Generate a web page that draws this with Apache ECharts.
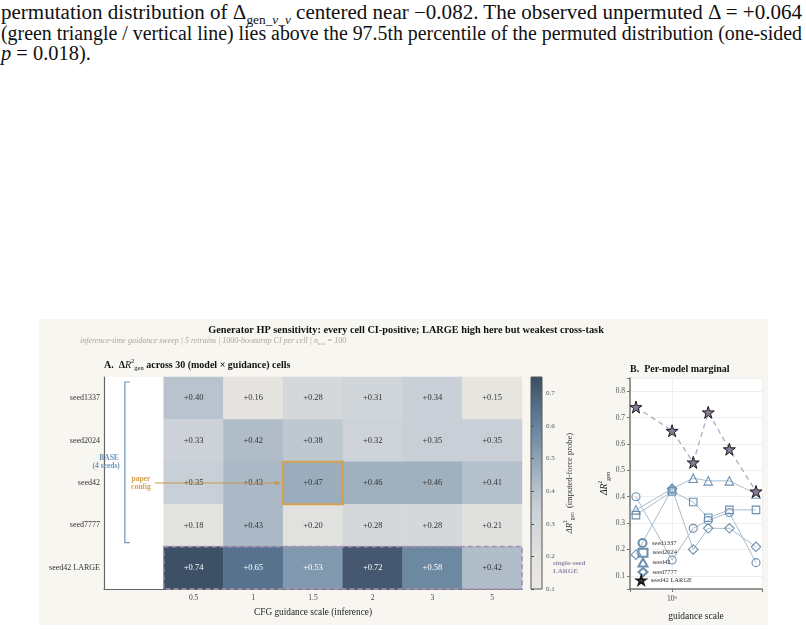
<!DOCTYPE html>
<html>
<head>
<meta charset="utf-8">
<script src="https://cdn.jsdelivr.net/npm/echarts@6/dist/echarts.min.js"></script>
<style>
	body {margin: 0; background: #fff; width: 806px; height: 630px; overflow: hidden; position: relative; font-family: 'Liberation Serif', serif;}
	.ln {position: absolute; left: 1px; font-size: 20.5px; line-height: 20px; color: #111; white-space: nowrap; transform-origin: 0 0;}
	.ln sub {font-size: 13px; line-height: 0;}
	#fig {position: absolute; left: 39px; top: 319px; width: 729px; height: 306px; background: #f8f6f0;}
	#chart {position: absolute; left: 0; top: 0; width: 806px; height: 630px;}
</style>
</head>
<body>
<span class="ln" id="l1" style="top:2px">permutation distribution of &Delta;<sub>gen_<i>v</i>_<i>v</i></sub> centered near &minus;0.082. The observed unpermuted &Delta; = +0.064</span>
<span class="ln" id="l2" style="top:23px">(green triangle / vertical line) lies above the 97.5th percentile of the permuted distribution (one-sided</span>
<span class="ln" id="l3" style="top:43px"><i>p</i> = 0.018).</span>
<div id="fig"></div>
<div id="chart"></div>
<script>
// 数据
const guidance = ['0.5', '1', '1.5', '2', '3', '5'];
const guidanceNum = [0.5, 1, 1.5, 2, 3, 5];
const models = ['seed1337', 'seed2024', 'seed42', 'seed7777', 'seed42 LARGE'];
const seed1337 = [0.40, 0.16, 0.28, 0.31, 0.34, 0.15];
const seed2024 = [0.33, 0.42, 0.38, 0.32, 0.35, 0.35];
const seed42 = [0.35, 0.43, 0.47, 0.46, 0.46, 0.41];
const seed7777 = [0.18, 0.43, 0.20, 0.28, 0.28, 0.21];
const seed42Large = [0.74, 0.65, 0.53, 0.72, 0.58, 0.42];
const rows = [seed1337, seed2024, seed42, seed7777, seed42Large];

// 正文段落：每行缩放到页面宽度
const w1 = document.getElementById('l1').getBoundingClientRect().width;
const w2 = document.getElementById('l2').getBoundingClientRect().width;
const s1 = 801 / w1, s2 = 801 / w2;
document.getElementById('l1').style.transform = 'scaleX(' + s1 + ')';
document.getElementById('l2').style.transform = 'scaleX(' + s2 + ')';
document.getElementById('l3').style.transform = 'scaleX(' + ((s1 + s2) / 2) + ')';

const serif = 'Liberation Serif';
const cmap = ['#ebe9e4', '#e7e5e0', '#e1e2e0', '#dadcdd', '#d1d6da', '#c8cfd6', '#b8c3cd',
	'#a3b3c1', '#8ea3b5', '#7892a9', '#66839d', '#56728d', '#4a5f77', '#3a4c62'];

const heatData = [];
rows.forEach((row, r) => {
	row.forEach((v, c) => {
		heatData.push({
			value: [c + 1, r, v],
			label: {color: v >= 0.5 ? '#ffffff' : '#333333'}
		});
	});
});
const toPts = (vals) => guidanceNum.map((g, i) => [g, vals[i]]);

const star = 'path://M50,0 L61,35 L98,35 L68,57 L79,91 L50,70 L21,91 L32,57 L2,35 L39,35 Z';
const baseItem = {color: 'none', borderColor: '#6b8fb0', borderWidth: 1.1};
const baseLine = {color: '#a9bdcd', width: 1};
const rich = {
	b: {fontFamily: serif, fontWeight: 'bold', fontSize: 10, lineHeight: 14, fill: '#111'},
	i: {fontFamily: serif, fontStyle: 'italic', fontSize: 10, lineHeight: 14, fill: '#111'},
	sup: {fontFamily: serif, fontSize: 6.5, verticalAlign: 'top', fill: '#111'},
	sub: {fontFamily: serif, fontSize: 6.5, verticalAlign: 'bottom', fill: '#111'}
};

// 图例：每项一个组件，逐行定位
const legendItems = [
	{name: 'seed1337', icon: 'circle'},
	{name: 'seed2024', icon: 'rect'},
	{name: 'seed42', icon: 'triangle'},
	{name: 'seed7777', icon: 'diamond'},
	{name: 'seed42 LARGE', icon: star}
];
const legends = legendItems.map((it, i) => ({
	left: 636, top: 536.5 + i * 9.7, padding: 0, orient: 'vertical', itemWidth: 9, itemHeight: 8, itemGap: 0,
	textStyle: {fontSize: 6.5, color: '#333', fontFamily: serif},
	data: [it]
}));

const chart = echarts.init(document.getElementById('chart'), null, {renderer: 'canvas'});
const option = {
	animation: false,
	textStyle: {fontFamily: serif},
	grid: [
		{left: 104, top: 377, width: 418, height: 212, show: true, backgroundColor: '#ffffff', borderWidth: 0, outerBoundsMode: 'none'},
		{left: 531, top: 377, width: 11, height: 212, show: true, borderColor: '#555', borderWidth: 1, outerBoundsMode: 'none',
			backgroundColor: new echarts.graphic.LinearGradient(0, 1, 0, 0,
				cmap.map((c, i) => ({offset: i / (cmap.length - 1), color: c})))},
		{left: 630, top: 378, width: 132, height: 211, show: true, backgroundColor: '#ffffff', borderWidth: 0, outerBoundsMode: 'none'}
	],
	visualMap: {
		type: 'continuous', show: false, min: 0.1, max: 0.75, dimension: 2, seriesIndex: 0,
		inRange: {color: cmap}
	},
	legend: legends,
	xAxis: [
		{
			gridIndex: 0, type: 'category', data: [''].concat(guidance),
			axisLine: {lineStyle: {color: '#666', width: 1.2}},
			axisTick: {alignWithLabel: true, length: 3, interval: (i) => i > 0, lineStyle: {color: '#666'}},
			axisLabel: {interval: 0, fontSize: 7.5, color: '#444', margin: 5},
			splitLine: {show: false},
			name: 'CFG guidance scale (inference)', nameLocation: 'middle', nameGap: 19,
			nameTextStyle: {fontSize: 9.3, color: '#222', fontFamily: serif}
		},
		{gridIndex: 1, type: 'value', min: 0, max: 1, show: false},
		{
			gridIndex: 2, type: 'log', logBase: 10, min: 0.446, max: 5.61,
			axisLine: {lineStyle: {color: '#777', width: 1.5}},
			axisTick: {length: 3, lineStyle: {color: '#777'}},
			axisLabel: {
				fontSize: 7.5, color: '#444', margin: 6,
				formatter: (v) => Math.abs(v - 1) < 1e-6 ? '10{s|0}' : '',
				rich: {s: {fontSize: 5, verticalAlign: 'top', color: '#444'}}
			},
			splitLine: {show: true, lineStyle: {color: '#eeeeee'}},
			name: 'guidance scale', nameLocation: 'middle', nameGap: 22,
			nameTextStyle: {fontSize: 9.5, color: '#222', fontFamily: serif}
		}
	],
	yAxis: [
		{
			gridIndex: 0, type: 'category', data: models, inverse: true,
			axisLine: {lineStyle: {color: '#666', width: 1.2}},
			axisTick: {alignWithLabel: true, length: 3, lineStyle: {color: '#666'}},
			axisLabel: {interval: 0, fontSize: 8, color: '#333', margin: 4},
			splitLine: {show: false}
		},
		{
			gridIndex: 1, type: 'value', min: 0.1, max: 0.75, interval: 0.1, position: 'right',
			axisLine: {show: false},
			axisTick: {show: true, length: 3, inside: false, lineStyle: {color: '#555'}},
			axisLabel: {
				fontSize: 7, color: '#555', margin: 4,
				formatter: (v) => Math.abs(v * 10 - Math.round(v * 10)) < 1e-6 ? v.toFixed(1) : ''
			},
			splitLine: {show: false},
			name: '{d|ΔR}{sup|2}{sub|gen}{t|  (imputed-force probe)}', nameLocation: 'middle', nameRotate: 90, nameGap: 21,
			nameTextStyle: {
				rich: {
					d: {fontFamily: serif, fontStyle: 'italic', fontSize: 8.5, lineHeight: 13, color: '#333'},
					t: {fontFamily: serif, fontSize: 8.5, lineHeight: 13, color: '#333'},
					sup: {fontFamily: serif, fontSize: 5.5, verticalAlign: 'top', color: '#333'},
					sub: {fontFamily: serif, fontSize: 5.5, verticalAlign: 'bottom', color: '#333'}
				}
			}
		},
		{
			gridIndex: 2, type: 'value', min: 0.05, max: 0.85, splitNumber: 8,
			axisLine: {show: true, lineStyle: {color: '#777', width: 1.5}},
			axisTick: {show: true, length: 3, lineStyle: {color: '#777'}},
			axisLabel: {
				fontSize: 7.5, color: '#555', margin: 5,
				formatter: (v) => Math.abs(v * 10 - Math.round(v * 10)) < 1e-6 ? v.toFixed(1) : ''
			},
			splitLine: {show: true, lineStyle: {color: '#eeeeee'}},
			name: '{d|ΔR}{sup|2}{sub|gen}', nameLocation: 'middle', nameRotate: 90, nameGap: 16,
			nameTextStyle: {
				rich: {
					d: {fontFamily: serif, fontStyle: 'italic', fontSize: 9.5, lineHeight: 14, color: '#222'},
					sup: {fontFamily: serif, fontSize: 6, verticalAlign: 'top', color: '#222'},
					sub: {fontFamily: serif, fontSize: 6, verticalAlign: 'bottom', color: '#222'}
				}
			}
		}
	],
	series: [
		{
			type: 'heatmap', xAxisIndex: 0, yAxisIndex: 0, data: heatData,
			label: {show: true, fontSize: 8.5, fontFamily: serif, formatter: (p) => '+' + p.value[2].toFixed(2)},
			emphasis: {disabled: true}
		},
		{name: 'seed1337', type: 'line', xAxisIndex: 2, yAxisIndex: 2, data: toPts(seed1337),
			symbol: 'circle', symbolSize: 8, itemStyle: baseItem, lineStyle: baseLine},
		{name: 'seed2024', type: 'line', xAxisIndex: 2, yAxisIndex: 2, data: toPts(seed2024),
			symbol: 'rect', symbolSize: 7.5, itemStyle: baseItem, lineStyle: baseLine},
		{name: 'seed42', type: 'line', xAxisIndex: 2, yAxisIndex: 2, data: toPts(seed42),
			symbol: 'triangle', symbolSize: 8.5, itemStyle: baseItem, lineStyle: baseLine},
		{name: 'seed7777', type: 'line', xAxisIndex: 2, yAxisIndex: 2, data: toPts(seed7777),
			symbol: 'diamond', symbolSize: 9.5, itemStyle: baseItem, lineStyle: baseLine},
		{name: 'seed42 LARGE', type: 'line', xAxisIndex: 2, yAxisIndex: 2, data: toPts(seed42Large), z: 5,
			symbol: star, symbolSize: 12, itemStyle: {color: '#8a7b9b', borderColor: '#1a1a1a', borderWidth: 1},
			lineStyle: {color: '#b3a8c4', width: 1.3, type: [5, 4]}}
	]
};
chart.setOption(option);

// 注释：用坐标换算定位
const px = (c, r) => chart.convertToPixel({xAxisIndex: 0, yAxisIndex: 0}, [c, r]);
const p00 = px(0, 0), p11 = px(1, 1);
const cw = p11[0] - p00[0], rh = p11[1] - p00[1];
const box = px(3, 2);
const large0 = px(1, 4), large5 = px(6, 4);
const bx = p00[0] - 9;
const bTop = p00[1] - rh / 2 + 5, bBot = px(0, 3)[1] + rh / 2 - 4;
const midBase = px(0, 1)[1] + rh / 2;
const arrowY = box[1], arrowEnd = box[0] - cw / 2 - 2;
const cb = chart.convertToPixel({xAxisIndex: 1, yAxisIndex: 1}, [1, 0.1]);

chart.setOption({
	graphic: [
		{type: 'text', x: 406, y: 330, style: {text: 'Generator HP sensitivity: every cell CI-positive; LARGE high here but weakest cross-task',
			font: 'bold 10.3px "Liberation Serif"', fill: '#111', textAlign: 'center', textVerticalAlign: 'middle'}},
		{type: 'text', x: 80, y: 341, style: {
			text: '{t|inference-time guidance sweep | 5 retrains | 1000-bootstrap CI per cell | n}{s|test}{t| = 100}',
			textVerticalAlign: 'middle',
			rich: {
				t: {fontFamily: serif, fontStyle: 'italic', fontSize: 8, lineHeight: 11, fill: '#aaa49b'},
				s: {fontFamily: serif, fontSize: 5, verticalAlign: 'bottom', fill: '#aaa49b'}
			}}},
		{type: 'text', x: 104, y: 365, style: {
			text: '{b|A.}{b|  Δ}{i|R}{sup|2}{sub|gen}{b| across 30 (model × guidance) cells}', textVerticalAlign: 'middle', rich: rich}},
		{type: 'text', x: 630, y: 369, style: {
			text: 'B.  Per-model marginal', font: 'bold 10px "Liberation Serif"', fill: '#111', textVerticalAlign: 'middle'}},
		// 论文配置框
		{type: 'rect', z: 10, shape: {x: box[0] - cw / 2, y: box[1] - rh / 2, width: cw, height: rh},
			style: {fill: 'none', stroke: '#d4a14f', lineWidth: 2}},
		// LARGE 行虚线框
		{type: 'rect', z: 10, shape: {x: large0[0] - cw / 2, y: large0[1] - rh / 2, width: large5[0] - large0[0] + cw, height: rh},
			style: {fill: 'none', stroke: '#a892b3', lineWidth: 1.6, lineDash: [5, 3]}},
		// BASE 括号
		{type: 'polyline', z: 10, shape: {points: [[bx + 5, bTop], [bx, bTop], [bx, bBot], [bx + 5, bBot]]},
			style: {fill: 'none', stroke: '#6c93b8', lineWidth: 1.2}},
		{type: 'text', z: 10, x: bx - 6, y: midBase - 4, style: {text: 'BASE', font: 'bold 7.5px "Liberation Serif"', fill: '#6c93b8', textAlign: 'right', textVerticalAlign: 'middle'}},
		{type: 'text', z: 10, x: bx - 5, y: midBase + 4.5, style: {text: '(4 seeds)', font: 'bold 7.5px "Liberation Serif"', fill: '#6c93b8', textAlign: 'right', textVerticalAlign: 'middle'}},
		{type: 'text', z: 10, x: p00[0] + 7, y: arrowY - 4, style: {text: 'paper', font: 'bold 7.5px "Liberation Serif"', fill: '#d4a14f', textAlign: 'center', textVerticalAlign: 'middle'}},
		{type: 'text', z: 10, x: p00[0] + 7, y: arrowY + 4, style: {text: 'config', font: 'bold 7.5px "Liberation Serif"', fill: '#d4a14f', textAlign: 'center', textVerticalAlign: 'middle'}},
		{type: 'line', z: 10, shape: {x1: p00[0] + 21, y1: arrowY, x2: arrowEnd - 4, y2: arrowY}, style: {stroke: '#c99a4c', lineWidth: 1.2}},
		{type: 'polygon', z: 10, shape: {points: [[arrowEnd, arrowY], [arrowEnd - 6, arrowY - 2.6], [arrowEnd - 6, arrowY + 2.6]]}, style: {fill: '#c99a4c'}},
		// 色条注释
		{type: 'text', z: 10, x: cb[0] + 11, y: px(0, 4)[1] - 5, style: {text: 'single-seed', font: 'bold 7px "Liberation Serif"', fill: '#9a88ab', textVerticalAlign: 'middle'}},
		{type: 'text', z: 10, x: cb[0] + 11, y: px(0, 4)[1] + 3, style: {text: 'LARGE', font: 'bold 7px "Liberation Serif"', fill: '#9a88ab', textVerticalAlign: 'middle'}}
	]
});
</script>
</body>
</html>
